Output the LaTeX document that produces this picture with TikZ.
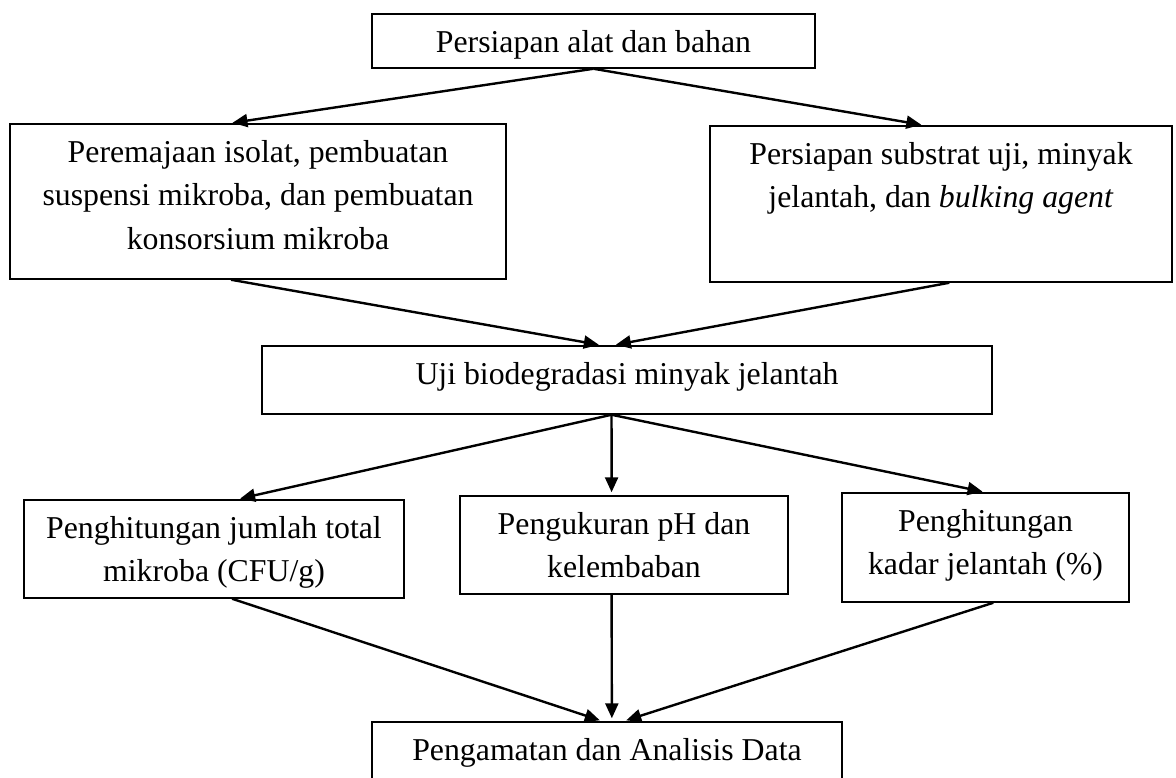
\documentclass[tikz,border=0pt]{standalone}
\usepackage{fontspec}
\setmainfont{Liberation Serif}
\usetikzlibrary{arrows.meta}
\newcommand{\boxtext}[3]{\parbox[c][#2][t]{#1}{\centering\vspace*{4pt}\strut #3}}

\begin{document}
\begin{tikzpicture}[x=0.5pt,y=-0.5pt,>={Triangle[length=7.5pt,width=6.5pt]},shorten >=1.5pt,line width=1.2pt,
    box node/.style={rectangle,draw,line width=0.75pt,inner sep=0pt,font=\fontsize{15.9}{21.75}\selectfont}]
  \useasboundingbox (0,0) rectangle (1176,777);
  \clip (0,0) rectangle (1176,777);
   \begin{scope}
     \node[box node] (alat) at (593.5,41) {\boxtext{221.5pt}{27pt}{Persiapan alat dan bahan}};
      \node[box node] (isolat) at (258,201.5) {\boxtext{248pt}{77.5pt}{Peremajaan isolat, pembuatan\\ suspensi mikroba, dan pembuatan\\ konsorsium mikroba}};
      \node[box node] (substrat) at (941,204) {\boxtext{231pt}{78pt}{Persiapan substrat uji, minyak\\ jelantah, dan \textit{bulking agent}}};
      \node[box node] (uji) at (627,380) {\boxtext{365pt}{34pt}{Uji biodegradasi minyak jelantah}};
      %three measurements
      \node[box node] (hitung) at (214,549) {\boxtext{190pt}{49pt}{Penghitungan jumlah total\\ mikroba (CFU/g)}};
      \node[box node] (ukur) at (624,545) {\boxtext{164pt}{49pt}{Pengukuran pH dan\\ kelembaban}};
      \node[box node] (kadar) at (985.5,547.5) {\boxtext{143.5pt}{54.5pt}{Penghitungan\\ kadar jelantah (\%)}};
      \node[box node] (data) at (607,752) {\boxtext{235pt}{30pt}{Pengamatan dan Analisis Data}};
       \path[->] (alat.south) edge (isolat.110);
       \path[->] (alat.south) edge (substrat.102);
       \path[->] (isolat.-109) edge (uji.126);
      \path[->] (substrat.-84) edge (uji.112);
      \path[->] (uji.-114) edge (hitung.65);
      \path[->] (uji.-114) edge (ukur.104);
      \path[->] (uji.-114) edge (kadar.north);
      \path[->] (hitung.-70) edge (data.98);
      \path[->] (ukur.-104) edge (data.81);
      \path[->] (kadar.-82) edge (data.62);
    \end{scope}
  \end{tikzpicture}
\end{document}
